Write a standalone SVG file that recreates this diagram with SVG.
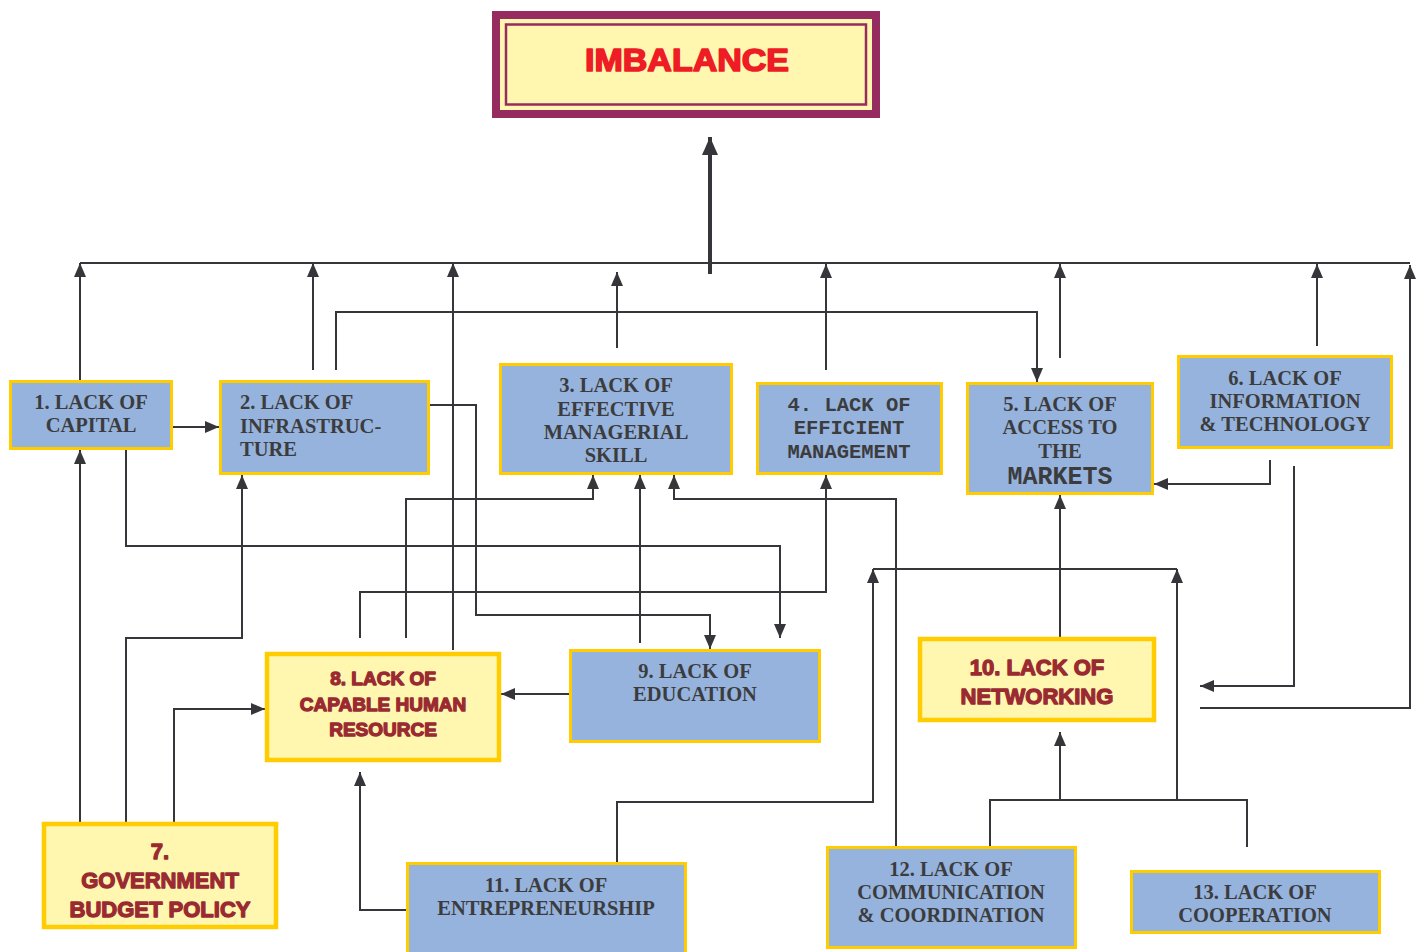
<svg xmlns="http://www.w3.org/2000/svg" width="1425" height="952" viewBox="0 0 1425 952">
  <style>
    .blue { fill: #95B3DC; stroke: #FFCC00; stroke-width: 3; }
    .gold { fill: #FFF7B0; stroke: #FFCC00; stroke-width: 4.5; }
    .ser { font-family: "Liberation Serif", "DejaVu Serif", serif; font-weight: bold; font-size: 20.5px; fill: #3C3C3E; text-anchor: middle; }
    .mono { font-family: "Liberation Mono", "DejaVu Sans Mono", monospace; font-weight: bold; font-size: 20.5px; fill: #3C3C3E; text-anchor: middle; }
    .heavy { font-family: "Liberation Sans", Arial, sans-serif; font-weight: bold; fill: #9A2A31; stroke: #9A2A31; stroke-width: 1.3; stroke-linejoin: round; text-anchor: middle; }
    .wire { fill: none; stroke: #36363A; stroke-width: 2; }
    .arr { marker-end: url(#head); }
  </style>
  <defs>
    <marker id="head" markerUnits="userSpaceOnUse" markerWidth="14" markerHeight="12" refX="14" refY="6" orient="auto">
      <path d="M0,0 L14,6 L0,12 Z" fill="#36363A"/>
    </marker>
    <marker id="bighead" markerUnits="userSpaceOnUse" markerWidth="18" markerHeight="16" refX="18" refY="8" orient="auto">
      <path d="M0,0 L18,8 L0,16 Z" fill="#36363A"/>
    </marker>
  </defs>

  <rect width="1425" height="952" fill="#FFFFFF"/>

  <!-- top outcome -->
  <g id="imbalance">
    <rect x="492" y="11" width="388" height="107" fill="#962B60"/>
    <rect x="500" y="19" width="372" height="91" fill="#FFF7B0"/>
    <rect x="506" y="24.5" width="360" height="80" fill="none" stroke="#962B60" stroke-width="2.5"/>
    <text class="heavy" x="687" y="71" style="font-size:32px; fill:#EE1C25; stroke:#EE1C25; stroke-width:1.6" textLength="204" lengthAdjust="spacingAndGlyphs">IMBALANCE</text>
  </g>

  <!-- connectors -->
  <g id="connectors">
    <path class="wire" d="M80,263 H1410"/>
    <path class="wire" d="M710,274 V137" marker-end="url(#bighead)" style="stroke-width:4"/>
    <path class="wire arr" d="M80,380 V263"/>
    <path class="wire arr" d="M313,370 V263"/>
    <path class="wire arr" d="M453,650 V263"/>
    <path class="wire arr" d="M617,348 V272"/>
    <path class="wire arr" d="M826,370 V264"/>
    <path class="wire arr" d="M1060,358 V264"/>
    <path class="wire arr" d="M1317,346 V264"/>
    <path class="wire arr" d="M1200,708 H1410 V265"/>
    <path class="wire arr" d="M173,427 H219"/>
    <path class="wire arr" d="M336,370 V312 H1037 V382"/>
    <path class="wire arr" d="M430,405 H476 V615 H710 V649"/>
    <path class="wire arr" d="M406,638 V499 H593 V475"/>
    <path class="wire arr" d="M640,643 V475"/>
    <path class="wire arr" d="M896,846 V499 H674 V475"/>
    <path class="wire arr" d="M126,450 V546 H780 V638"/>
    <path class="wire arr" d="M360,638 V592 H826 V475"/>
    <path class="wire arr" d="M1270,460 V484 H1154"/>
    <path class="wire arr" d="M1294,466 V686 H1200"/>
    <path class="wire arr" d="M1060,637 V495"/>
    <path class="wire arr" d="M617,862 V802 H873 V569"/>
    <path class="wire" d="M873,569 H1177"/>
    <path class="wire arr" d="M1177,800 V569"/>
    <path class="wire" d="M990,846 V800 H1247 V847"/>
    <path class="wire arr" d="M1060,800 V732"/>
    <path class="wire arr" d="M569,694 H501"/>
    <path class="wire arr" d="M80,822 V450"/>
    <path class="wire arr" d="M126,822 V638 H242 V475"/>
    <path class="wire arr" d="M174,822 V709 H265"/>
    <path class="wire arr" d="M406,910 H360 V772"/>
  </g>

  <g id="n1">
    <rect class="blue" x="10.5" y="381.5" width="161" height="67"/>
    <text class="ser" x="91" y="409">1. LACK OF</text>
    <text class="ser" x="91" y="432">CAPITAL</text>
  </g>
  <g id="n2">
    <rect class="blue" x="220.5" y="381.5" width="208" height="92"/>
    <text class="ser" x="240" y="409" style="text-anchor:start">2. LACK OF</text>
    <text class="ser" x="240" y="433" style="text-anchor:start">INFRASTRUC-</text>
    <text class="ser" x="240" y="456" style="text-anchor:start">TURE</text>
  </g>
  <g id="n3">
    <rect class="blue" x="500.5" y="364.5" width="231" height="109"/>
    <text class="ser" x="616" y="392">3. LACK OF</text>
    <text class="ser" x="616" y="416">EFFECTIVE</text>
    <text class="ser" x="616" y="439">MANAGERIAL</text>
    <text class="ser" x="616" y="462">SKILL</text>
  </g>
  <g id="n4">
    <rect class="blue" x="757.5" y="383.5" width="184" height="90"/>
    <text class="mono" x="849" y="411">4. LACK OF</text>
    <text class="mono" x="849" y="434">EFFICIENT</text>
    <text class="mono" x="849" y="458">MANAGEMENT</text>
  </g>
  <g id="n5">
    <rect class="blue" x="967.5" y="383.5" width="185" height="110"/>
    <text class="ser" x="1060" y="411">5. LACK OF</text>
    <text class="ser" x="1060" y="434">ACCESS TO</text>
    <text class="ser" x="1060" y="458">THE</text>
    <text class="mono" x="1060" y="484" style="font-size:25px">MARKETS</text>
  </g>
  <g id="n6">
    <rect class="blue" x="1178.5" y="356.5" width="213" height="91"/>
    <text class="ser" x="1285" y="385">6. LACK OF</text>
    <text class="ser" x="1285" y="408">INFORMATION</text>
    <text class="ser" x="1285" y="431">&amp; TECHNOLOGY</text>
  </g>
  <g id="n7">
    <rect class="gold" x="44" y="824" width="232" height="103"/>
    <text class="heavy" x="160" y="859" style="font-size:22px">7.</text>
    <text class="heavy" x="160" y="888" style="font-size:22px">GOVERNMENT</text>
    <text class="heavy" x="160" y="917" style="font-size:22px">BUDGET POLICY</text>
  </g>
  <g id="n8">
    <rect class="gold" x="267" y="654" width="232" height="106"/>
    <text class="heavy" x="383" y="685" style="font-size:19px">8. LACK OF</text>
    <text class="heavy" x="383" y="711" style="font-size:19px">CAPABLE HUMAN</text>
    <text class="heavy" x="383" y="736" style="font-size:19px">RESOURCE</text>
  </g>
  <g id="n9">
    <rect class="blue" x="570.5" y="650.5" width="249" height="91"/>
    <text class="ser" x="695" y="678">9. LACK OF</text>
    <text class="ser" x="695" y="701">EDUCATION</text>
  </g>
  <g id="n10">
    <rect class="gold" x="920" y="639" width="234" height="81"/>
    <text class="heavy" x="1037" y="675" style="font-size:22px">10. LACK OF</text>
    <text class="heavy" x="1037" y="704" style="font-size:22px">NETWORKING</text>
  </g>
  <g id="n11">
    <rect class="blue" x="407.5" y="863.5" width="278" height="95"/>
    <text class="ser" x="546" y="892">11. LACK OF</text>
    <text class="ser" x="546" y="915">ENTREPRENEURSHIP</text>
  </g>
  <g id="n12">
    <rect class="blue" x="827.5" y="847.5" width="248" height="100"/>
    <text class="ser" x="951" y="876">12. LACK OF</text>
    <text class="ser" x="951" y="899">COMMUNICATION</text>
    <text class="ser" x="951" y="922">&amp; COORDINATION</text>
  </g>
  <g id="n13">
    <rect class="blue" x="1131.5" y="871.5" width="248" height="61"/>
    <text class="ser" x="1255" y="899">13. LACK OF</text>
    <text class="ser" x="1255" y="922">COOPERATION</text>
  </g>
</svg>
